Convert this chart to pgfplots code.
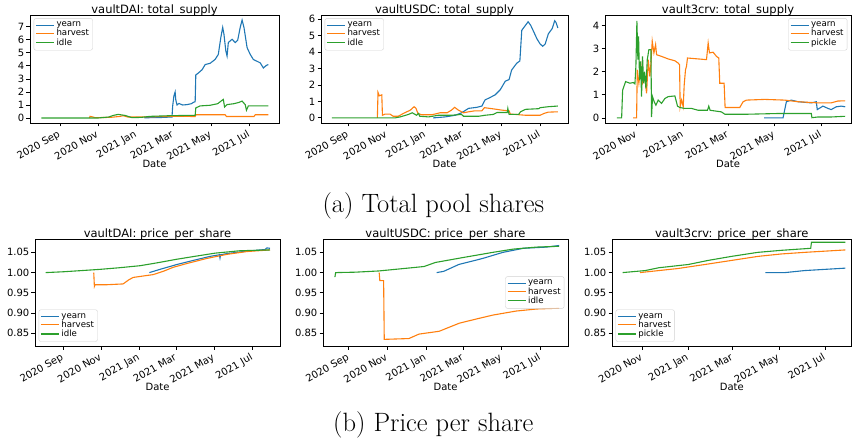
\documentclass[border=0pt]{standalone}
\usepackage{pgfplots}
\pgfplotsset{compat=1.18}
\usepackage{fontspec}
\newfontfamily\dv{DejaVu Sans}
\definecolor{c0}{HTML}{1F77B4}
\definecolor{c1}{HTML}{FF7F0E}
\definecolor{c2}{HTML}{2CA02C}
\newcommand{\tickfont}{\dv\fontsize{10}{12}\selectfont}
\newcommand{\legfont}{\dv\fontsize{8.6}{9.5}\selectfont}
\pgfplotsset{
  mpl/.style={
    scale only axis,
    /pgf/number format/assume math mode=true,
    axis line style={black, line width=0.9pt},
    tick align=outside, xtick pos=bottom, ytick pos=left,
    major tick length=3.5pt,
    tick style={black, line width=0.8pt},
    xticklabel style={font=\tickfont, rotate=30, anchor=north east, inner sep=1pt, xshift=-3pt},
    yticklabel style={font=\tickfont, inner sep=2pt},
    title style={font=\dv\fontsize{11.5}{13}\selectfont, at={(0.5,1)}, anchor=base, yshift=-4.5pt},
    xlabel=Date,
    xlabel style={font=\tickfont, at={(axis description cs:0.5,-0.38)}, anchor=center},
    legend style={font=\legfont, draw=black!18, rounded corners=2pt,
      fill=white, fill opacity=0.8, text opacity=1, inner sep=1.5pt, row sep=-2.8pt,
      nodes={inner sep=2pt}},
    legend cell align=left,
    legend image code/.code={\draw[#1, line width=1.1pt] (0pt,0pt) -- (18pt,0pt);},
    every axis plot/.append style={line width=1.1pt, mark=none},
  },
  dates/.style={xtick={0,61,122,181,242,303},
    xticklabels={2020 Sep,2020 Nov,2021 Jan,2021 Mar,2021 May,2021 Jul}},
  dates2/.style={xtick={61,122,181,242,303},
    xticklabels={2020 Nov,2021 Jan,2021 Mar,2021 May,2021 Jul}},
  pps/.style={ymin=0.8186, ymax=1.083, ytick={0.85,0.90,0.95,1.00,1.05},
    yticklabel style={/pgf/number format/.cd, fixed, fixed zerofill, precision=2}},
}
\begin{document}
\begin{tikzpicture}
\useasboundingbox (0,0) rectangle (852pt,445pt);
% ---------------- (a) total supply ----------------
\begin{axis}[mpl, dates, at={(30pt,322pt)}, anchor=south west, width=249pt, height=108pt,
  xmin=-48, xmax=350, ymin=-0.38, ymax=7.9, ytick={0,1,2,3,4,5,6,7},
  title={vaultDAI: total\_supply},
  legend style={at={(0.015,0.97)}, anchor=north west}]
\addplot[c0] coordinates {(135,0.02) (160,0.04) (179,0.08) (180,0.9) (182,1.7) (184,2.0) (185,1.4) (187,1.0) (190,1.12) (196,1.0) (203,1.03) (210,1.1) (213,1.2) (216,1.25) (217,3.3) (221,3.45) (227,3.7) (232,4.1) (240,4.2) (248,4.5) (253,4.88) (257,6.17) (260,6.95) (262,6.43) (265,5.15) (267,4.75) (269,5.79) (275,6.04) (280,5.79) (284,5.97) (288,6.95) (291,7.52) (294,6.95) (299,5.4) (304,4.88) (309,4.49) (315,4.35) (320,4.23) (325,3.84) (330,4.04) (333,4.1)};
\addlegendentry{yearn}
\addplot[c1] coordinates {(47,0.0) (48,0.13) (51,0.1) (56,0.03) (80,0.05) (95,0.12) (101,0.18) (108,0.08) (150,0.1) (180,0.13) (216,0.12) (217,0.25) (264,0.25) (266,0.12) (310,0.12) (312,0.25) (333,0.25)};
\addlegendentry{harvest}
\addplot[c2] coordinates {(-30,0.0) (60,0.0) (78,0.08) (85,0.2) (93,0.28) (104,0.2) (115,0.03) (130,0.05) (144,0.13) (176,0.18) (200,0.2) (216,0.2) (217,0.78) (224,0.93) (240,0.98) (252,1.1) (259,1.36) (261,1.43) (263,0.85) (267,1.03) (278,1.1) (286,1.2) (291,1.3) (296,1.03) (298,0.6) (301,0.93) (315,0.93) (333,0.93)};
\addlegendentry{idle}
\node[anchor=base west, font=\legfont, inner sep=0pt] at (rel axis cs:0,1) [yshift=1.5pt] {1e8};
\end{axis}

\begin{axis}[mpl, dates, at={(321pt,322pt)}, anchor=south west, width=247pt, height=108pt,
  xmin=-43, xmax=347, ymin=-0.31, ymax=6.25, ytick={0,1,2,3,4,5,6},
  title={vaultUSDC: total\_supply},
  legend style={at={(0.015,0.97)}, anchor=north west}]
\addplot[c0] coordinates {(134,0.0) (153,0.06) (169,0.16) (179,0.31) (190,0.58) (203,0.64) (211,0.72) (216,1.09) (224,1.24) (232,1.4) (240,1.71) (248,2.23) (254,2.33) (258,2.91) (266,3.32) (271,3.46) (274,5.32) (280,5.63) (284,5.84) (288,5.63) (293,5.22) (298,4.8) (303,4.49) (307,4.35) (311,4.49) (316,5.11) (322,5.42) (326,5.9) (328,5.8) (331,5.46)};
\addlegendentry{yearn}
\addplot[c1] coordinates {(46,0.0) (47,1.55) (49,1.34) (53,1.4) (54,0.16) (58,0.23) (66,0.23) (71,0.1) (79,0.1) (87,0.27) (98,0.47) (104,0.68) (107,0.58) (110,0.27) (116,0.19) (132,0.19) (145,0.31) (156,0.31) (163,0.47) (168,0.64) (174,0.47) (182,0.31) (190,0.37) (200,0.43) (211,0.43) (215,0.62) (227,0.56) (243,0.47) (254,0.43) (256,0.23) (264,0.21) (280,0.16) (303,0.16) (309,0.27) (316,0.35) (331,0.37)};
\addlegendentry{harvest}
\addplot[c2] coordinates {(-26,0.0) (74,0.0) (82,0.06) (95,0.21) (101,0.31) (108,0.16) (111,0.27) (113,0.1) (127,0.06) (142,0.16) (163,0.16) (179,0.21) (182,0.1) (206,0.1) (216,0.16) (229,0.21) (235,0.33) (251,0.33) (252,0.58) (254,0.21) (269,0.21) (272,0.37) (280,0.52) (301,0.56) (303,0.62) (316,0.68) (331,0.72)};
\addlegendentry{idle}
\node[anchor=base west, font=\legfont, inner sep=0pt] at (rel axis cs:0,1) [yshift=1.5pt] {1e8};
\end{axis}

\begin{axis}[mpl, dates2, at={(605pt,322pt)}, anchor=south west, width=246pt, height=108pt,
  xmin=19.6, xmax=342, ymin=-0.22, ymax=4.45, ytick={0,1,2,3,4},
  title={vault3crv: total\_supply},
  legend style={at={(0.985,0.97)}, anchor=north east}]
\addplot[c0] coordinates {(228,0) (252.9,0) (255,0.33) (257.3,0.7) (263.8,0.77) (272.5,0.7) (290,0.65) (296.5,0.7) (297.8,0.36) (305.2,0.51) (311.8,0.41) (316,0.36) (322.6,0.48) (329.2,0.51) (334.4,0.48)};
\addlegendentry{yearn}
\addplot[c1] coordinates {(56.6,0) (61,0) (61.9,2.08) (64,1.5) (66.7,2.23) (68.8,1.5) (71.9,1.72) (74.1,1.06) (76.3,2.52) (78.4,1.79) (79.8,2.37) (81.5,3.32) (83.7,2.81) (85.9,3.17) (87.2,2.73) (93.7,2.66) (102.4,2.55) (111.2,2.47) (115.5,2.37) (117.3,2.3) (118.1,0.48) (119.9,0.77) (122.1,0.48) (123.4,1.43) (125.1,2.08) (126.4,2.23) (127.7,2.59) (141.7,2.55) (152.6,2.52) (154.8,3.24) (156.5,2.81) (161.3,2.84) (165.7,2.66) (168.7,2.59) (170,1.5) (175.7,1.5) (177,0.45) (196.2,0.45) (200.6,0.7) (204.9,0.77) (228.9,0.8) (255.1,0.77) (272.5,0.7) (298.7,0.65) (316,0.65) (324.8,0.73) (334.4,0.74)};
\addlegendentry{harvest}
\addplot[c2] coordinates {(35,0) (41.4,0) (42.7,1.2) (46.6,1.57) (52.3,1.5) (56.6,1.53) (58.8,1.47) (60.1,2.23) (61.4,4.19) (62.7,2.52) (63.6,3.53) (64.9,1.64) (66.2,2.44) (67.5,0.92) (68.8,2.66) (70.2,1.5) (71.5,2.0) (73.2,1.28) (75.0,2.52) (77.1,2.95) (79.8,2.95) (80.6,0.04) (81.9,0.92) (84.1,0.7) (86.3,0.55) (89.3,0.77) (93.7,0.63) (98.1,0.84) (102.4,0.92) (111.2,0.95) (114.6,0.51) (117.7,0.45) (124.2,0.41) (133,0.41) (141.7,0.33) (153.9,0.33) (155.6,0.51) (157.4,0.33) (172.2,0.26) (176.6,0.16) (207,0.16) (246,0.19) (290,0.19) (290.8,0.01) (298.7,0.04) (316,0.04) (334.4,0.07)};
\addlegendentry{pickle}
\node[anchor=base west, font=\legfont, inner sep=0pt] at (rel axis cs:0,1) [yshift=1.5pt] {1e7};
\end{axis}

% ---------------- (b) price per share ----------------
\begin{axis}[mpl, dates, pps, at={(35pt,99pt)}, anchor=south west, width=245pt, height=107pt,
  xmin=-45, xmax=347, title={vaultDAI: price\_per\_share},
  legend style={at={(0.015,0.04)}, anchor=south west}]
\addplot[c0] coordinates {(138,1.000) (155,1.008) (182,1.020) (208,1.030) (235,1.040) (250,1.044) (251,1.036) (252,1.044) (262,1.047) (294,1.053) (323,1.057) (326,1.061) (331,1.060)};
\addlegendentry{yearn}
\addplot[c1] coordinates {(49,1.000) (50,0.966) (51,0.970) (70,0.970) (96,0.972) (105,0.982) (112,0.988) (144,0.995) (160,1.003) (176,1.013) (197,1.022) (230,1.035) (262,1.045) (294,1.052) (331,1.056)};
\addlegendentry{harvest}
\addplot[c2] coordinates {(-28,1.000) (0,1.002) (30,1.005) (59,1.008) (90,1.012) (123,1.017) (150,1.024) (182,1.033) (210,1.040) (243,1.048) (283,1.054) (331,1.056)};
\addlegendentry{idle}
\end{axis}

\begin{axis}[mpl, dates, pps, at={(323pt,99pt)}, anchor=south west, width=245pt, height=107pt,
  xmin=-41, xmax=347, title={vaultUSDC: price\_per\_share},
  legend style={at={(0.985,0.5)}, anchor=east}]
\addplot[c0] coordinates {(139,1.000) (150,1.003) (174,1.020) (212,1.035) (244,1.050) (276,1.060) (313,1.063) (333,1.067)};
\addlegendentry{yearn}
\addplot[c1] coordinates {(48,1.000) (49,0.980) (55,0.980) (56,0.835) (95,0.837) (111,0.848) (143,0.855) (159,0.865) (175,0.875) (201,0.885) (228,0.895) (265,0.905) (297,0.910) (333,0.912)};
\addlegendentry{harvest}
\addplot[c2] coordinates {(-23,0.990) (-22,0.990) (-21,1.000) (10,1.001) (47,1.004) (80,1.009) (119,1.015) (137,1.025) (180,1.037) (228,1.050) (260,1.058) (297,1.063) (333,1.065)};
\addlegendentry{idle}
\end{axis}

\begin{axis}[mpl, dates2, pps, at={(612pt,99pt)}, anchor=south west, width=239.5pt, height=107pt,
  xmin=21, xmax=338, title={vault3crv: price\_per\_share},
  legend style={at={(0.015,0.04)}, anchor=south west}]
\addplot[c0] coordinates {(224,1.000) (250,1.000) (276,1.005) (330,1.011)};
\addlegendentry{yearn}
\addplot[c1] coordinates {(58,1.000) (108,1.010) (144,1.020) (179,1.030) (214,1.040) (245,1.046) (276,1.050) (330,1.056)};
\addlegendentry{harvest}
\addplot[c2] coordinates {(35,1.000) (65,1.005) (83,1.012) (122,1.020) (148,1.030) (179,1.040) (214,1.050) (245,1.055) (284,1.060) (285,1.075) (330,1.075)};
\addlegendentry{pickle}
\end{axis}

% captions
\node[anchor=base, font=\fontsize{26.5}{30}\selectfont, inner sep=0pt] at (433.4pt,232.3pt) {(a) Total pool shares};
\node[anchor=base, font=\fontsize{26.5}{30}\selectfont, inner sep=0pt] at (433.3pt,13.3pt) {(b) Price per share};
\end{tikzpicture}
\end{document}
